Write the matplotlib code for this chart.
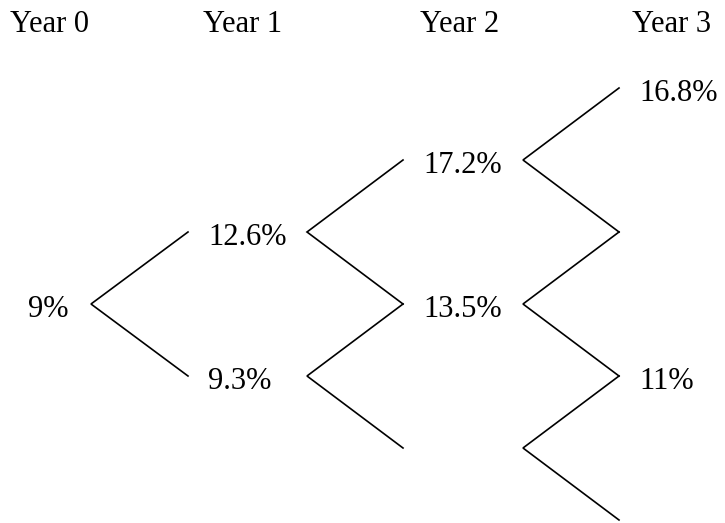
import matplotlib
matplotlib.use("Agg")
import matplotlib.pyplot as plt

# ---- data ----
years = ["Year 0", "Year 1", "Year 2", "Year 3"]
# node labels per year, top to bottom (None = unlabeled node)
rates_y0 = ["9%"]
rates_y1 = ["12.6%", "9.3%"]
rates_y2 = ["17.2%", "13.5%", None]
rates_y3 = ["16.8%", None, "11%", None]
rates = [rates_y0, rates_y1, rates_y2, rates_y3]

# ---- layout (pixel coordinates, y downward) ----
W, H = 725, 523
header_left = [10, 203, 420, 632]
header_base = 32
vertex_x = [91, 307, 523]      # where branches start for years 0..2
end_x = [188, 403, 619]        # where branches end (next year)
root_y = 304
step = 72
label_gap = 20
font = "Liberation Serif"
fs = 22

fig = plt.figure(figsize=(W / 100, H / 100), dpi=100)
ax = fig.add_axes([0, 0, 1, 1])
ax.set_xlim(0, W)
ax.set_ylim(H, 0)
ax.axis("off")

def node_y(i, k):
    return root_y - step * i + 2 * step * k

for i, name in enumerate(years):
    ax.text(header_left[i], header_base, name, ha="left", va="baseline",
            fontsize=fs, family=font)

# branches
for i in range(len(years) - 1):
    for k in range(i + 1):
        y = node_y(i, k)
        ax.plot([end_x[i], vertex_x[i], end_x[i]],
                [node_y(i + 1, k), y, node_y(i + 1, k + 1)],
                color="black", lw=1.2, solid_joinstyle="miter")

# labels
for i, col in enumerate(rates):
    for k, lab in enumerate(col):
        if lab is None:
            continue
        y = node_y(i, k) + 13
        if i == 0:
            ax.text(vertex_x[0] - 22, y, lab, ha="right", va="baseline",
                    fontsize=fs, family=font)
        else:
            ax.text(end_x[i - 1] + label_gap, y, lab, ha="left", va="baseline",
                    fontsize=fs, family=font)

fig.savefig("out.png", dpi=100, facecolor="white")
